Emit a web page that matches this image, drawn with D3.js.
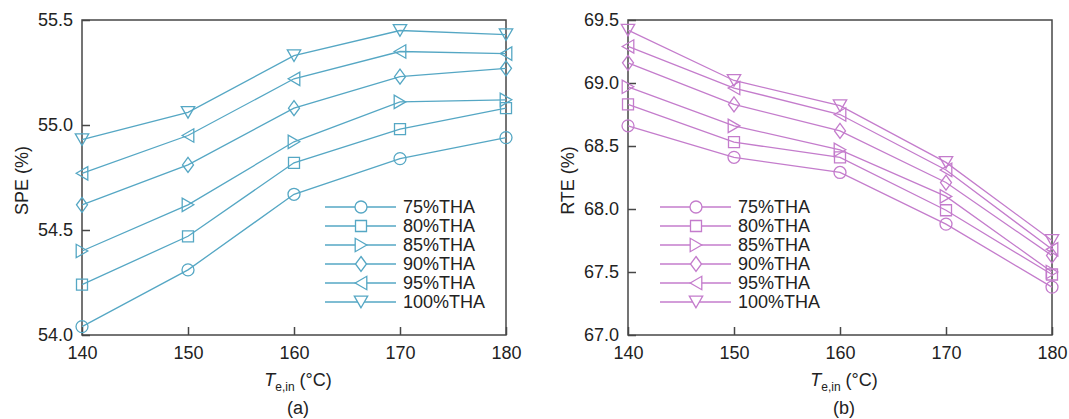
<!DOCTYPE html>
<html>
<head>
<meta charset="utf-8">
<script src="https://cdn.jsdelivr.net/npm/d3@7"></script>
<style>
  body { margin: 0; background: #fff; }
  text { font-family: "Liberation Sans", Arial, sans-serif; fill: #222; }
</style>
</head>
<body>
<div class="container"></div>
<script>
// temperatures and series names
var temps = [140, 150, 160, 170, 180];
var seriesNames = ["75%THA", "80%THA", "85%THA", "90%THA", "95%THA", "100%THA"];
var markerTypes = ["circle", "square", "triRight", "diamond", "triLeft", "triDown"];

// SPE (%) values, panel (a)
var spe75 = [54.04, 54.31, 54.67, 54.84, 54.94];
var spe80 = [54.24, 54.47, 54.82, 54.98, 55.08];
var spe85 = [54.40, 54.62, 54.92, 55.11, 55.12];
var spe90 = [54.62, 54.81, 55.08, 55.23, 55.27];
var spe95 = [54.77, 54.95, 55.22, 55.35, 55.34];
var spe100 = [54.93, 55.06, 55.33, 55.45, 55.43];

// RTE (%) values, panel (b)
var rte75 = [68.66, 68.41, 68.29, 67.88, 67.38];
var rte80 = [68.83, 68.53, 68.41, 67.99, 67.48];
var rte85 = [68.97, 68.66, 68.47, 68.10, 67.50];
var rte90 = [69.16, 68.83, 68.62, 68.21, 67.63];
var rte95 = [69.29, 68.96, 68.75, 68.31, 67.68];
var rte100 = [69.42, 69.02, 68.82, 68.37, 67.75];

var speTicks = [54.0, 54.5, 55.0, 55.5];
var rteTicks = [67.0, 67.5, 68.0, 68.5, 69.0, 69.5];
var xTicks = [140, 150, 160, 170, 180];

var svgWidth = 1069;
var svgHeight = 419;

var svg = d3.select(".container")
    .append("svg")
    .attr("width", svgWidth)
    .attr("height", svgHeight);

var frameColor = "#474747";

// marker outlines, centred on the point
function markerPath(type) {
    var p = d3.path();
    if (type == "circle") {
        p.arc(0, 0, 6, 0, 2 * Math.PI);
    } else if (type == "square") {
        p.rect(-5.5, -5.5, 11, 11);
    } else if (type == "diamond") {
        p.moveTo(0, -7.5); p.lineTo(5.5, 0); p.lineTo(0, 7.5); p.lineTo(-5.5, 0); p.closePath();
    } else {
        // triangle pointing up, then rotated by caller
        p.moveTo(0, -5.8); p.lineTo(6.7, 5.8); p.lineTo(-6.7, 5.8); p.closePath();
    }
    return p.toString();
}
var markerRotate = { circle: 0, square: 0, diamond: 0, triRight: 90, triLeft: -90, triDown: 180 };

function drawPanel(opts) {
    var w = opts.right - opts.left;
    var h = opts.bottom - opts.top;
    var g = svg.append("g").attr("transform", `translate(${opts.left}, ${opts.top})`);

    var x = d3.scaleLinear().domain([140, 180]).range([0, w]);
    var y = d3.scaleLinear().domain(opts.yDomain).range([h, 0]);

    var bottomAxis = d3.axisBottom(x).tickValues(xTicks).tickFormat(d3.format("d"))
        .tickSizeInner(-8).tickSizeOuter(0).tickPadding(11);
    var leftAxis = d3.axisLeft(y).tickValues(opts.yTicks).tickFormat(d3.format(".1f"))
        .tickSizeInner(-8).tickSizeOuter(0).tickPadding(9);

    var xg = g.append("g").attr("transform", `translate(0, ${h})`).call(bottomAxis);
    var yg = g.append("g").call(leftAxis);
    [xg, yg].forEach(function(a) {
        a.select(".domain").remove();
        a.selectAll("line").attr("stroke", frameColor).attr("stroke-width", 1.5);
        a.selectAll("text").style("font-size", "18px").attr("fill", "#222")
            .style("font-family", '"Liberation Sans", Arial, sans-serif');
    });

    g.append("rect")
        .attr("width", w).attr("height", h)
        .attr("fill", "none").attr("stroke", frameColor).attr("stroke-width", 1.5);

    var line = d3.line().x((d, i) => x(temps[i])).y(d => y(d));

    opts.series.forEach(function(vals, s) {
        g.append("path")
            .attr("d", line(vals))
            .attr("fill", "none")
            .attr("stroke", opts.color)
            .attr("stroke-width", 1.3);
        g.selectAll(".m" + s)
            .data(vals)
            .enter()
            .append("path")
            .attr("class", "m" + s)
            .attr("d", markerPath(markerTypes[s]))
            .attr("transform", (d, i) => `translate(${x(temps[i])}, ${y(d)}) rotate(${markerRotate[markerTypes[s]]})`)
            .attr("fill", "none")
            .attr("stroke", opts.color)
            .attr("stroke-width", 1.3);
    });

    // legend
    var lg = g.append("g").attr("transform", `translate(${opts.legendX}, ${207 - opts.top})`);
    seriesNames.forEach(function(name, s) {
        var row = lg.append("g").attr("transform", `translate(0, ${s * 19})`);
        row.append("line").attr("x1", 0).attr("x2", 71).attr("y1", 0).attr("y2", 0)
            .attr("stroke", opts.color).attr("stroke-width", 1.3);
        row.append("path")
            .attr("d", markerPath(markerTypes[s]))
            .attr("transform", `translate(36, 0) rotate(${markerRotate[markerTypes[s]]})`)
            .attr("fill", "#fff")
            .attr("stroke", opts.color).attr("stroke-width", 1.3);
        row.append("text").attr("x", 78).attr("y", 0).attr("dy", "0.36em")
            .style("font-size", "18px").text(name);
    });

    // y title
    g.append("text")
        .attr("transform", `translate(${-60}, ${h / 2 + 3}) rotate(-90)`)
        .attr("text-anchor", "middle")
        .attr("dy", "0.36em")
        .style("font-size", "18px")
        .text(opts.yTitle);

    // x title
    var xt = g.append("text")
        .attr("x", w / 2 + 4)
        .attr("y", h + 51)
        .attr("text-anchor", "middle")
        .style("font-size", "18px");
    xt.append("tspan").style("font-style", "italic").text("T");
    xt.append("tspan").attr("dy", 5).style("font-size", "12px").text("e,in");
    xt.append("tspan").attr("dy", -5).text(" (°C)");

    g.append("text")
        .attr("x", w / 2 + 4)
        .attr("y", h + 79)
        .attr("text-anchor", "middle")
        .style("font-size", "18px")
        .text(opts.label);
}

drawPanel({
    left: 82, right: 506, top: 20, bottom: 335,
    yDomain: [54.0, 55.5], yTicks: speTicks,
    series: [spe75, spe80, spe85, spe90, spe95, spe100],
    color: "#55a7c4",
    legendX: 243, yTitle: "SPE (%)", label: "(a)"
});

drawPanel({
    left: 628, right: 1052, top: 20, bottom: 335,
    yDomain: [67.0, 69.5], yTicks: rteTicks,
    series: [rte75, rte80, rte85, rte90, rte95, rte100],
    color: "#c47ccc",
    legendX: 32, yTitle: "RTE (%)", label: "(b)"
});
</script>
</body>
</html>
